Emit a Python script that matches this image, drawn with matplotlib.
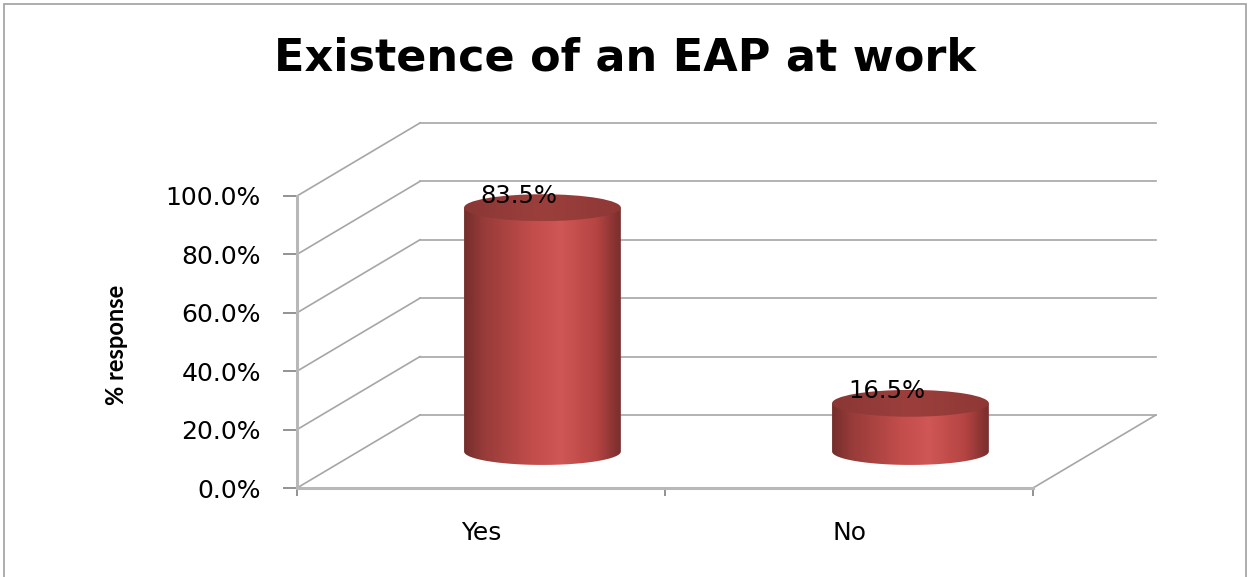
import numpy as np
import matplotlib as mpl
import matplotlib.pyplot as plt
from matplotlib.patches import Ellipse, PathPatch, Rectangle
from matplotlib.path import Path
from matplotlib.colors import LinearSegmentedColormap

## Data

categories = ['Yes', 'No']
values = [83.5, 16.5]
y_ticks = [0, 20, 40, 60, 80, 100]

## Style

grid_color = '#a6a6a6'
axis_color = '#b8b8b8'
depth_dx, depth_dy = 0.334, 25.0      # offset of the back wall in data units
bar_halfwidth = 0.213
cap_half = 4.6                        # half height of the ellipses, in % units

body_cmap = LinearSegmentedColormap.from_list('cyl', [
    (0.00, '#742e2c'), (0.12, '#963b39'), (0.45, '#c44e4c'),
    (0.62, '#cf5755'), (0.85, '#b44442'), (1.00, '#782e2d')])
cap_cmap = LinearSegmentedColormap.from_list('cap', ['#8a3735', '#9c3f3c', '#8e3836'])

fig = plt.figure(figsize=(12.51, 5.77), dpi=100)
ax = fig.add_axes([297/1251, 89/577, 883.2/1251, 379.6/577])
ax.set_xlim(0, 2.4)
ax.set_ylim(0, 130)

## Walls and floor

for v in y_ticks:
    ax.plot([0, depth_dx], [v, v + depth_dy], color=grid_color, lw=1.2, zorder=1)
    ax.plot([depth_dx, len(categories) + depth_dx], [v + depth_dy, v + depth_dy],
            color=grid_color, lw=1.2, zorder=1)
ax.plot([len(categories), len(categories) + depth_dx], [0, depth_dy],
        color=grid_color, lw=1.2, zorder=1)

## Cylinders

for i, v in enumerate(values):
    cx = i + 0.5 + depth_dx / 2
    base = depth_dy / 2
    top = base + v
    t = np.linspace(np.pi, 2 * np.pi, 60)
    verts = [(cx - bar_halfwidth, top), (cx - bar_halfwidth, base)]
    verts += list(zip(cx + bar_halfwidth * np.cos(t), base + cap_half * np.sin(t)))
    verts += [(cx + bar_halfwidth, top), (cx - bar_halfwidth, top)]
    codes = [Path.MOVETO] + [Path.LINETO] * (len(verts) - 2) + [Path.CLOSEPOLY]
    body = PathPatch(Path(verts, codes), facecolor='none', edgecolor='none',
                     transform=ax.transData)
    ax.add_patch(body)
    grad = np.linspace(0, 1, 256).reshape(1, -1)
    im = ax.imshow(grad, cmap=body_cmap, aspect='auto', zorder=3,
                   extent=[cx - bar_halfwidth, cx + bar_halfwidth,
                           base - cap_half, top])
    im.set_clip_path(body)

    cap = Ellipse((cx, top), 2 * bar_halfwidth, 2 * cap_half,
                  facecolor='none', edgecolor='none', transform=ax.transData)
    ax.add_patch(cap)
    im2 = ax.imshow(grad, cmap=cap_cmap, aspect='auto', zorder=4,
                    extent=[cx - bar_halfwidth, cx + bar_halfwidth,
                            top - cap_half, top + cap_half])
    im2.set_clip_path(cap)
    ax.text(cx - 0.065, top, f'{v:.1f}%', ha='center', va='bottom',
            fontsize=17.5, color='black', zorder=5)

ax.set_xlim(0, 2.4)
ax.set_ylim(0, 130)

## Axes

for side in ['top', 'right']:
    ax.spines[side].set_visible(False)
ax.spines['left'].set_bounds(0, 100)
ax.spines['bottom'].set_bounds(0, len(categories))
for side in ['left', 'bottom']:
    ax.spines[side].set_color(axis_color)
    ax.spines[side].set_linewidth(2.2)
    ax.spines[side].set_zorder(2)

ax.set_yticks(y_ticks)
ax.set_yticklabels([f'{v:.1f}%' for v in y_ticks], fontsize=18)
ax.tick_params(axis='y', which='major', length=10, width=1.2,
               color='#808080', pad=16)

ax.set_xticks(range(len(categories) + 1))
ax.set_xticklabels([])
ax.set_xticks([i + 0.5 for i in range(len(categories))], minor=True)
ax.set_xticklabels(categories, minor=True, fontsize=18)
ax.tick_params(axis='x', which='major', length=6, width=1.2, color='#808080')
ax.tick_params(axis='x', which='minor', length=0, pad=24)
ax.patch.set_visible(False)

fig.text(117/1251, 1 - 345/577, '% response', rotation=90, ha='center',
         va='center', fontsize=17, fontweight='bold', family='Lato')
fig.text(625/1251, 1 - 58/577, 'Existence of an EAP at work', ha='center',
         va='center', fontsize=32, fontweight='bold', family='DejaVu Sans')

fig.patches.append(Rectangle((4/1251, -0.05), 1242/1251, 1.05 - 4/577,
                             transform=fig.transFigure, fill=False,
                             edgecolor='#a0a0a0', lw=1.2))

fig.savefig('out.png', dpi=100)
